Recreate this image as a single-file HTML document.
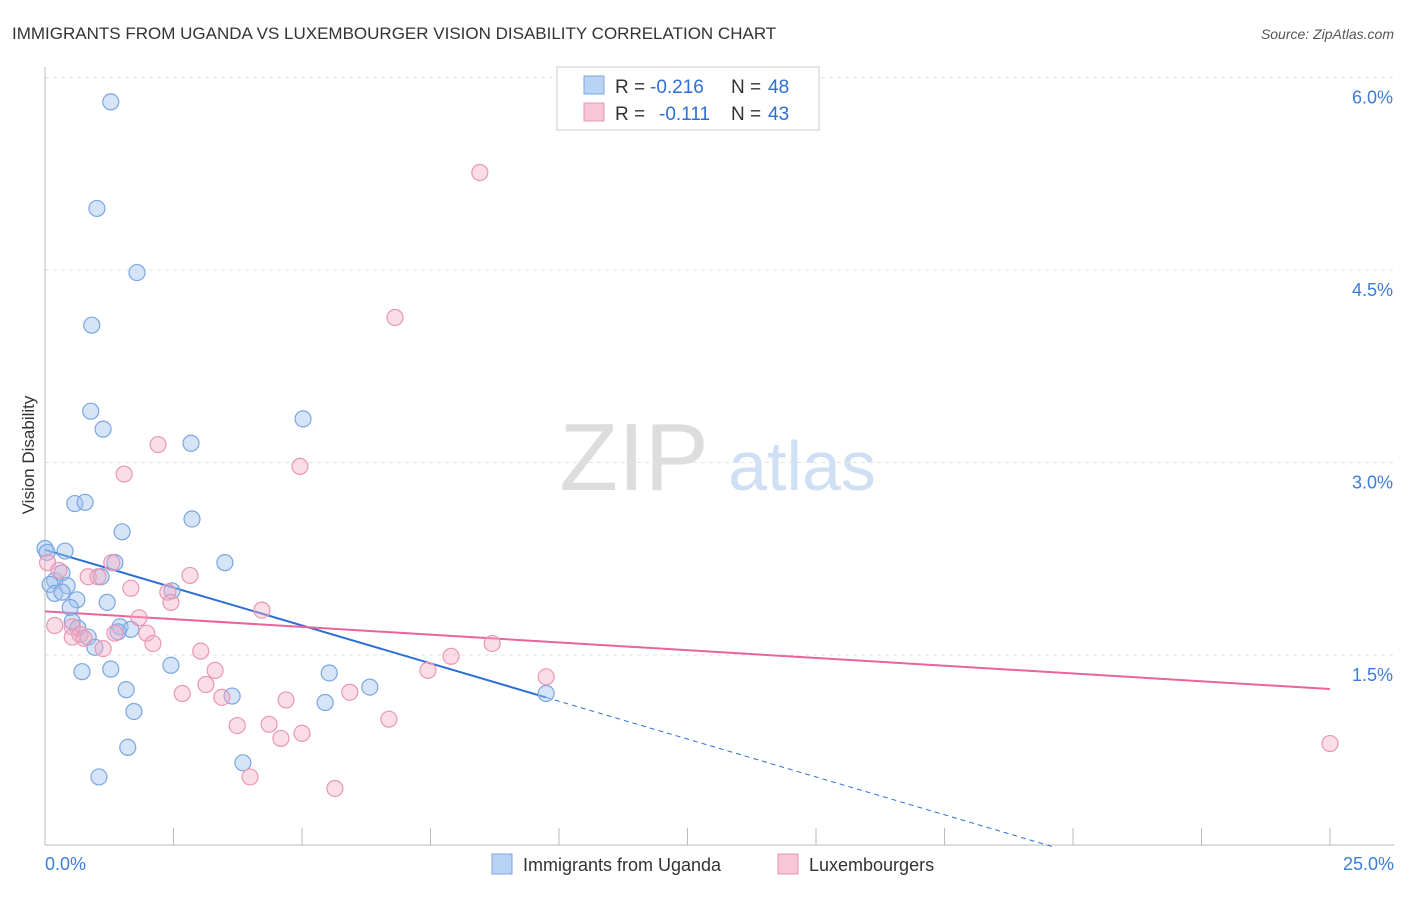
<!DOCTYPE html>
<html><head><meta charset="utf-8"><style>
body{margin:0;background:#fff;font-family:"Liberation Sans",sans-serif}
svg text{font-family:"Liberation Sans",sans-serif}
</style></head><body>
<svg id="c" width="1406" height="892">
<text x="12" y="39" font-size="17" fill="#333">IMMIGRANTS FROM UGANDA VS LUXEMBOURGER VISION DISABILITY CORRELATION CHART</text>
<text x="1394" y="39" font-size="14" fill="#555" text-anchor="end" font-style="italic">Source: ZipAtlas.com</text>
<text x="34" y="455" font-size="17" fill="#333" text-anchor="middle" transform="rotate(-90 34 455)">Vision Disability</text>
<g><text x="634" y="490" font-size="96" fill="#ddd" text-anchor="middle" font-family="Liberation Serif,serif">ZIP</text><text x="802" y="490" font-size="70" fill="#cfe0f5" text-anchor="middle">atlas</text></g>
<g id="grid"></g><g id="axes"></g><g id="lines"></g><g id="pts"></g>
<g>
<rect x="557" y="67" width="262" height="63" fill="#fff" stroke="#ccc"/>
<rect x="584" y="76" width="20" height="18" fill="#b9d3f5" stroke="#7aa6e0"/>
<text y="93" font-size="19" fill="#333"><tspan x="615">R =</tspan><tspan x="650" fill="#2d6fd6">-0.216</tspan><tspan x="731">N =</tspan><tspan x="768" fill="#2d6fd6">48</tspan></text>
<rect x="584" y="103" width="20" height="18" fill="#f8c6d6" stroke="#e897b4"/>
<text y="120" font-size="19" fill="#333"><tspan x="615">R =</tspan><tspan x="659" fill="#2d6fd6">-0.111</tspan><tspan x="731">N =</tspan><tspan x="768" fill="#2d6fd6">43</tspan></text>
</g>
<g>
<rect x="492" y="854" width="20" height="20" fill="#b9d3f5" stroke="#7aa6e0"/>
<text x="523" y="871" font-size="18" fill="#333">Immigrants from Uganda</text>
<rect x="778" y="854" width="20" height="20" fill="#f8c6d6" stroke="#e897b4"/>
<text x="809" y="871" font-size="18" fill="#333">Luxembourgers</text>
</g>
</svg>
<script>
const blueX=[1.28,1.01,1.79,0.91,0.89,1.13,2.84,5.02,0.58,0.78,1.50,2.86,0,0.39,3.50,1.36,0.19,0.33,1.09,0.43,0.10,0.19,0.33,0.62,1.21,0.49,2.47,0.53,0.64,0.84,1.46,1.67,1.42,0.97,0.72,1.28,2.45,5.53,1.58,3.64,5.45,6.32,1.73,1.61,3.85,1.05,9.75,0.04];
const blueY=[5.81,4.98,4.48,4.07,3.40,3.26,3.15,3.34,2.68,2.69,2.46,2.56,2.33,2.31,2.22,2.22,2.08,2.14,2.11,2.04,2.05,1.98,1.99,1.93,1.91,1.87,2.00,1.76,1.71,1.64,1.72,1.70,1.68,1.56,1.37,1.39,1.42,1.36,1.23,1.18,1.13,1.25,1.06,0.78,0.66,0.55,1.20,2.30];
const pinkX=[8.46,6.81,2.20,4.96,1.54,1.30,0.05,0.27,0.84,1.03,2.82,1.67,2.39,2.45,4.22,0.19,1.83,0.53,0.68,0.53,0.76,1.36,1.98,2.10,1.13,8.70,3.03,7.90,3.31,9.75,7.45,3.13,2.67,5.93,3.44,4.69,3.74,4.36,6.69,5.00,4.59,3.99,5.64,25.0];
const pinkY=[5.26,4.13,3.14,2.97,2.91,2.22,2.22,2.16,2.11,2.11,2.12,2.02,1.99,1.91,1.85,1.73,1.79,1.72,1.66,1.64,1.63,1.67,1.67,1.59,1.55,1.59,1.53,1.49,1.38,1.33,1.38,1.27,1.20,1.21,1.17,1.15,0.95,0.96,1.00,0.89,0.85,0.55,0.46,0.81];
const blueTrend=[2.32,-0.118];const blueSolidEnd=9.75;
const pinkTrend=[1.84,-0.0242];
const yTicks=[1.5,3.0,4.5,6.0];
const xTickVals=[0,2.5,5,7.5,10,12.5,15,17.5,20,22.5,25];
const X=v=>45+v/25*1285, Y=v=>847.5-v*128.33;
const NS='http://www.w3.org/2000/svg';
function mk(p,t,a){const e=document.createElementNS(NS,t);for(const k in a)e.setAttribute(k,a[k]);p.appendChild(e);return e;}
const g=document.getElementById('grid'),ax=document.getElementById('axes'),ln=document.getElementById('lines'),pt=document.getElementById('pts');
yTicks.forEach(v=>{const l=mk(g,'line',{x1:45,x2:1394,y1:Y(v),y2:Y(v),stroke:'#e3e3e3','stroke-dasharray':'4,4'});


const t=mk(ax,'text',{x:1393,y:Y(v)+26,'font-size':18,fill:'#3b7dd8','text-anchor':'end'});t.textContent=v.toFixed(1)+'%';

});
const yl=mk(ax,'line',{x1:45,x2:45,y1:67,y2:845,stroke:'#bbb'});


const xl=mk(ax,'line',{x1:45,x2:1394,y1:845,y2:845,stroke:'#bbb'});


xTickVals.forEach(v=>{const l=mk(ax,'line',{x1:X(v),x2:X(v),y1:828,y2:845,stroke:'#bbb'});

});
[[0,'start',45],[25,'end',1394]].forEach(([v,a,x])=>{const t=mk(ax,'text',{x:x,y:870,'font-size':18,fill:'#3b7dd8','text-anchor':a});t.textContent=v.toFixed(1)+'%';

});
function dots(xs,ys,fill,stroke,name){xs.forEach((x,i)=>{const c=mk(pt,'circle',{cx:X(x),cy:Y(ys[i]),r:8,fill:fill,stroke:stroke,'stroke-width':1.2});

});}
dots(blueX,blueY,'rgba(164,196,240,0.45)','#7aa6e0','uganda-point');
dots(pinkX,pinkY,'rgba(244,170,195,0.4)','#e897b4','luxembourger-point');
const bz=-blueTrend[0]/blueTrend[1];
const b1=mk(ln,'line',{x1:X(0),y1:Y(blueTrend[0]),x2:X(blueSolidEnd),y2:Y(blueTrend[0]+blueTrend[1]*blueSolidEnd),stroke:'#2d6fd6','stroke-width':2});


const b2=mk(ln,'line',{x1:X(blueSolidEnd),y1:Y(blueTrend[0]+blueTrend[1]*blueSolidEnd),x2:X(bz),y2:Y(0),stroke:'#2d6fd6','stroke-width':1,'stroke-dasharray':'5,4'});


const p1=mk(ln,'line',{x1:X(0),y1:Y(pinkTrend[0]),x2:X(25),y2:Y(pinkTrend[0]+pinkTrend[1]*25),stroke:'#e8649a','stroke-width':2});


</script>
</body></html>
